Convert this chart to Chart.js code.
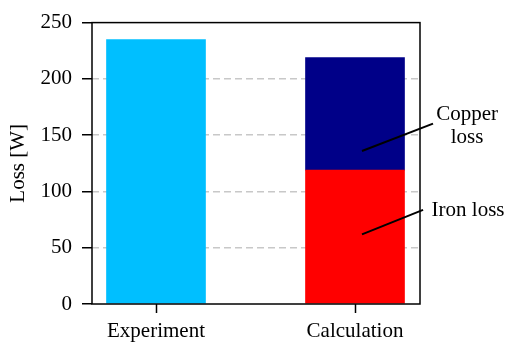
<!DOCTYPE html>
<html>
<head>
<meta charset="utf-8">
<script src="https://cdn.jsdelivr.net/npm/chart.js@4/dist/chart.umd.min.js"></script>
<style>
  html,body{margin:0;padding:0;background:#fff;}
  #wrap{width:506px;height:344px;position:relative;}
</style>
</head>
<body>
<div id="wrap"><canvas id="c" width="506" height="344"></canvas></div>
<script>
// ---- data ----
const categories = ['Experiment', 'Calculation'];
const experimentLoss = [235, null];
const ironLoss = [null, 119];
const copperLoss = [null, 100];
const yTicks = [0, 50, 100, 150, 200, 250];
const yTitle = 'Loss [W]';
const noteTexts = [['Copper', 'loss'], ['Iron loss']];

// annotation placement (data coordinates)
const notes = [
  { lines: noteTexts[0], tx: 1.563, ty: [163.8, 142.9], from: [1.035, 135.9], to: [1.392, 160.3] },
  { lines: noteTexts[1], tx: 1.568, ty: [78.4], from: [1.035, 61.8], to: [1.342, 83.6] }
];

const FONT = 'Liberation Serif, Times New Roman, serif';
const toXY = arr => arr.map((v, i) => ({ x: i, y: v }));

const framePlugin = {
  id: 'frame',
  afterDatasetsDraw(chart) {
    const { ctx, chartArea: a } = chart;
    ctx.save();
    ctx.strokeStyle = '#000';
    ctx.lineWidth = 1.5;
    ctx.strokeRect(a.left, a.top, a.right - a.left, a.bottom - a.top);
    ctx.restore();
  },
  afterDraw(chart) {
    const { ctx } = chart;
    const xs = chart.scales.x, ys = chart.scales.y;
    ctx.save();
    ctx.strokeStyle = '#000';
    ctx.lineWidth = 2;
    ctx.fillStyle = '#000';
    ctx.font = '21px ' + FONT;
    ctx.textAlign = 'center';
    ctx.textBaseline = 'alphabetic';
    notes.forEach(n => {
      ctx.beginPath();
      ctx.moveTo(xs.getPixelForValue(n.from[0]), ys.getPixelForValue(n.from[1]));
      ctx.lineTo(xs.getPixelForValue(n.to[0]), ys.getPixelForValue(n.to[1]));
      ctx.stroke();
      n.lines.forEach((t, i) => {
        ctx.fillText(t, xs.getPixelForValue(n.tx), ys.getPixelForValue(n.ty[i]));
      });
    });
    ctx.restore();
  }
};

new Chart(document.getElementById('c'), {
  type: 'bar',
  data: {
    datasets: [
      { label: 'Experiment', data: toXY(experimentLoss), backgroundColor: '#00BFFF', barThickness: 99 },
      { label: 'Iron loss', data: toXY(ironLoss), backgroundColor: '#FF0000', barThickness: 99 },
      { label: 'Copper loss', data: toXY(copperLoss), backgroundColor: '#000088', barThickness: 99 }
    ]
  },
  options: {
    responsive: false,
    animation: false,
    devicePixelRatio: 1,
    layout: { padding: { left: 0, top: 17, right: 86, bottom: 0 } },
    plugins: { legend: { display: false }, tooltip: { enabled: false } },
    scales: {
      x: {
        type: 'linear',
        stacked: true,
        offset: false,
        bounds: 'data',
        min: -0.3216,
        max: 1.3266,
        afterBuildTicks: s => { s.ticks = categories.map((c, i) => ({ value: i })); },
        afterFit: s => { s.height = 40; },
        ticks: {
          callback: v => categories[v],
          color: '#000',
          font: { family: FONT, size: 21 },
          padding: 6,
          maxRotation: 0,
          autoSkip: false
        },
        grid: { offset: false, drawOnChartArea: false, drawTicks: true, tickLength: 9, tickColor: '#000', tickWidth: 1.5 },
        border: { display: false }
      },
      y: {
        stacked: true,
        min: 0,
        max: 250,
        afterBuildTicks: s => { s.ticks = yTicks.map(v => ({ value: v })); },
        afterFit: s => { s.width = 92; },
        ticks: {
          color: '#000',
          font: { family: FONT, size: 21 },
          padding: 10
        },
        grid: {
          color: c => (c.tick && (c.tick.value === 0 || c.tick.value === 250)) ? 'rgba(0,0,0,0)' : '#c8c8c8',
          lineWidth: 1.5,
          tickLength: 10,
          tickColor: '#000',
          tickWidth: 1.5,
          tickBorderDash: []
        },
        border: { display: false, dash: [7, 4] },
        title: {
          display: true,
          text: yTitle,
          color: '#000',
          font: { family: FONT, size: 21 },
          padding: { top: 6, bottom: 0 }
        }
      }
    }
  },
  plugins: [framePlugin]
});
</script>
</body>
</html>
